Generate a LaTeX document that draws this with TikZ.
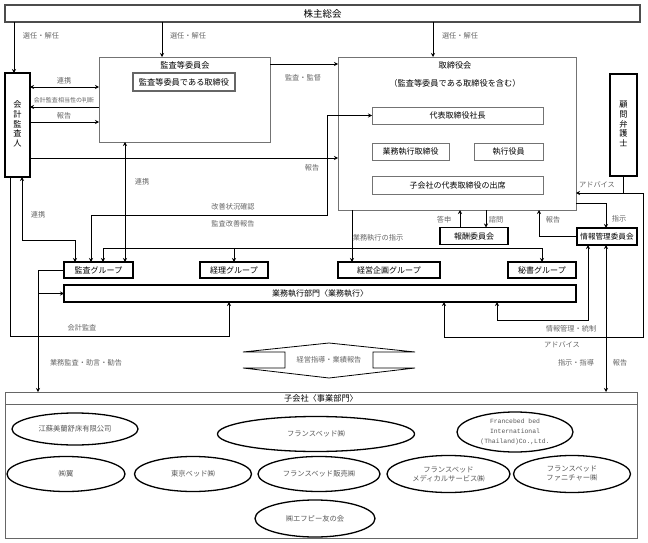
\documentclass[tikz,border=0pt]{standalone}
\usepackage{fontspec}
\setmainfont{Noto Sans CJK JP}
\newfontfamily\monof{Liberation Mono}
\usetikzlibrary{arrows.meta,calc,shapes.geometric}
\begin{document}
\begin{tikzpicture}[x=1pt,y=-1pt,
  >={Stealth[length=4pt,width=4pt]},
  every node/.style={inner sep=0pt,outer sep=0pt},
  conn/.style={line width=0.9pt,draw=black},
  lbl/.style={font=\fontsize{7.2}{8}\selectfont,text=black!60},
  tbox/.style={draw=black,line width=1.3pt,fill=white,font=\fontsize{8}{9}\selectfont},
  gbox/.style={draw=black!55,line width=0.8pt,fill=white,font=\fontsize{8}{9}\selectfont},
  vtext/.style={align=center,font=\fontsize{8.2}{9.6}\selectfont},
  ell/.style={ellipse,draw=black,line width=1.3pt,fill=white,font=\fontsize{7.3}{9}\selectfont,text=black!65,align=center}
]
\useasboundingbox (0,0) rectangle (648,543);

% ---- main boxes
\node[draw=black!70,line width=2pt,minimum width=635pt,minimum height=17pt,font=\fontsize{9.5}{10}\selectfont] (kabu) at (322.5,13.5) {株主総会};
\node[tbox,minimum width=25pt,minimum height=104pt] (kaikei) at (17.5,125) {};
\node[vtext] (kaikeiT) at (17.5,124) {会\\計\\監\\査\\人};
\node[gbox,minimum width=171pt,minimum height=85pt] (kansa) at (184.5,99.5) {};
\node[font=\fontsize{8.2}{9}\selectfont] (kansaT) at (185,65) {監査等委員会};
\node[draw=black!60,line width=1.1pt,fill=white,minimum width=102pt,minimum height=18pt,font=\fontsize{8.2}{9}\selectfont] (kansaIn) at (184,82) {監査等委員である取締役};

\node[gbox,minimum width=238pt,minimum height=153pt] (tori) at (457,133.5) {};
\node[font=\fontsize{8.2}{9}\selectfont] (toriT) at (455,65) {取締役会};
\node[font=\fontsize{8.2}{9}\selectfont] (toriS) at (455,83) {（監査等委員である取締役を含む）};
\node[gbox,minimum width=171pt,minimum height=17pt] (shacho) at (457.5,115.5) {代表取締役社長};
\node[gbox,minimum width=77pt,minimum height=17pt] (gyotori) at (410.5,151.5) {業務執行取締役};
\node[gbox,minimum width=69pt,minimum height=17pt] (shikko) at (508.5,151.5) {執行役員};
\node[gbox,minimum width=171pt,minimum height=18pt] (shusseki) at (457.5,185) {子会社の代表取締役の出席};

\node[tbox,minimum width=27pt,minimum height=102pt] (komon) at (623.5,125) {};
\node[vtext] (komonT) at (623.5,124) {顧\\問\\弁\\護\\士};
\node[tbox,minimum width=68pt,minimum height=17pt] (hoshu) at (474,236) {報酬委員会};
\node[tbox,minimum width=60pt,minimum height=17pt,font=\fontsize{7.6}{9}\selectfont] (joho) at (607,236.5) {情報管理委員会};

\node[tbox,minimum width=69pt,minimum height=16pt] (kansaG) at (98.5,270) {監査グループ};
\node[tbox,minimum width=68pt,minimum height=16pt] (keiriG) at (234,270) {経理グループ};
\node[tbox,minimum width=102pt,minimum height=16pt] (keieiG) at (389,270) {経営企画グループ};
\node[tbox,minimum width=68pt,minimum height=16pt] (hishoG) at (542,270) {秘書グループ};
\node[tbox,minimum width=512pt,minimum height=17pt] (gyomu) at (320,293.5) {業務執行部門〈業務執行〉};

\node[draw=black!60,line width=0.8pt,minimum width=632pt,minimum height=146pt] (ko) at (321,465) {};
\draw[draw=black!60,line width=0.8pt] (ko.west |- 0,404) -- (ko.east |- 0,404);
\node[font=\fontsize{8.2}{9}\selectfont] (koT) at (321,398) {子会社〈事業部門〉};

% ---- ellipses
\node[ell,minimum width=126pt,minimum height=32pt] (e1) at (75,429) {江蘇美蘭舒床有限公司};
\node[ell,minimum width=197pt,minimum height=35pt] (e2) at (316,434) {フランスベッド㈱};
\node[ell,minimum width=116pt,minimum height=40pt,font=\monof\fontsize{6.4}{10}\selectfont] (e3) at (515,432) {Francebed bed\\International\\(Thailand)Co.,Ltd.};
\node[ell,minimum width=118pt,minimum height=35pt] (e4) at (66,474) {㈱翼};
\node[ell,minimum width=117pt,minimum height=35pt] (e5) at (193,474) {東京ベッド㈱};
\node[ell,minimum width=122pt,minimum height=35pt] (e6) at (319,474) {フランスベッド販売㈱};
\node[ell,minimum width=123pt,minimum height=37pt] (e7) at (448.5,474) {フランスベッド\\メディカルサービス㈱};
\node[ell,minimum width=117pt,minimum height=37pt] (e8) at (572,474) {フランスベッド\\ファニチャー㈱};
\node[ell,minimum width=120pt,minimum height=37pt] (e9) at (315,518.5) {㈱エフピー友の会};

% ---- banner
\draw[line width=0.8pt,fill=white] (329,343) -- (415,352) -- (373,352) -- (373,368) -- (415,368) -- (329,378) -- (243,368) -- (285,368) -- (285,352) -- (243,352) -- cycle;
\node[lbl] (banT) at (329,360) {経営指導・業績報告};

% ---- connectors
\draw[conn,->] (kabu.south -| 14,0) -- (kaikei.north -| 14,0);
\draw[conn,->] (kabu.south -| 162,0) -- (kansa.north -| 162,0);
\draw[conn,->] (kabu.south -| 433,0) -- (tori.north -| 433,0);
\draw[conn,<->] (kaikei.east |- 0,87) -- (kansa.west |- 0,87);
\draw[conn,->] (kansa.west |- 0,107) -- (kaikei.east |- 0,107);
\draw[conn,->] (kaikei.east |- 0,122) -- (kansa.west |- 0,122);
\draw[conn,->] (kansa.east |- 0,64) -- (tori.west |- 0,64);
\draw[conn,->] (kaikei.east |- 0,158) -- (tori.west |- 0,158);
\draw[conn,<->] (kansa.south -| 125,0) -- (kansaG.north -| 125,0);
\draw[conn,<->] (kaikei.south -| 22,0) -- (22,240) -- (75,240) -- (kansaG.north -| 75,0);
\draw[conn,<->] (shacho.west) -- (327,115.5) -- (327,215) -- (91,215) -- (kansaG.north -| 91,0);
\draw[conn,->] (tori.south -| 352,0) -- (keieiG.north -| 352,0);
\draw[conn,->] (103,248) -- (kansaG.north -| 103,0);
\draw[conn,->] (103,248) -| (hishoG.north);
\draw[conn,->] (keiriG.north |- 0,248) -- (keiriG.north);
\draw[conn,->] (kansaG.west) -- (38,270) -- (ko.north -| 38,0);
\draw[conn,->] (38,293.5) -- (gyomu.west);
\draw[conn,->] (kaikei.south -| 10,0) -- (10,336) -- (229,336) -- (gyomu.south -| 229,0);
\draw[conn,->] (hoshu.north -| 460,0) -- (tori.south -| 460,0);
\draw[conn,->] (tori.south -| 486,0) -- (hoshu.north -| 486,0);
\draw[conn,->] (joho.west) -- (539,236.5) -- (tori.south -| 539,0);
\draw[conn,->] (tori.east |- 0,203) -- (606,203) -- (joho.north -| 606,0);
\draw[conn,->] (komon.south) -- (623.5,193) -- (tori.east |- 0,193);
\draw[conn,->] (623.5,193) -- (643,193) -- (643,337) -- (444,337) -- (gyomu.south -| 444,0);
\draw[conn,<->] (joho.south -| 588,0) -- (588,320) -- (497,320) -- (gyomu.south -| 497,0);
\draw[conn,<->] (joho.south -| 606,0) -- (ko.north -| 606,0);

% ---- labels
\node[lbl] (l1) at (41,36) {選任・解任};
\node[lbl] (l2) at (188,36) {選任・解任};
\node[lbl] (l3) at (460,36) {選任・解任};
\node[lbl] (l4) at (64,81) {連携};
\node[lbl,font=\fontsize{6}{6.5}\selectfont] (l5) at (64,100) {会計監査相当性の判断};
\node[lbl] (l6) at (64,116) {報告};
\node[lbl] (l7) at (303,78) {監査・監督};
\node[lbl] (l8) at (312,168) {報告};
\node[lbl] (l9) at (142,182) {連携};
\node[lbl] (l10) at (38,215) {連携};
\node[lbl] (l11) at (233,207) {改善状況確認};
\node[lbl] (l12) at (233,224) {監査改善報告};
\node[lbl] (l13) at (378,238) {業務執行の指示};
\node[lbl] (l14) at (444,220) {答申};
\node[lbl] (l15) at (496,220) {諮問};
\node[lbl] (l16) at (553,220) {報告};
\node[lbl] (l17) at (619,219) {指示};
\node[lbl] (l18) at (597,185) {アドバイス};
\node[lbl] (l19) at (82,328) {会計監査};
\node[lbl] (l20) at (86,363) {業務監査・助言・勧告};
\node[lbl] (l21) at (571,329) {情報管理・統制};
\node[lbl] (l22) at (562,345) {アドバイス};
\node[lbl] (l23) at (576,363) {指示・指導};
\node[lbl] (l24) at (620,363) {報告};
\end{tikzpicture}
\end{document}
